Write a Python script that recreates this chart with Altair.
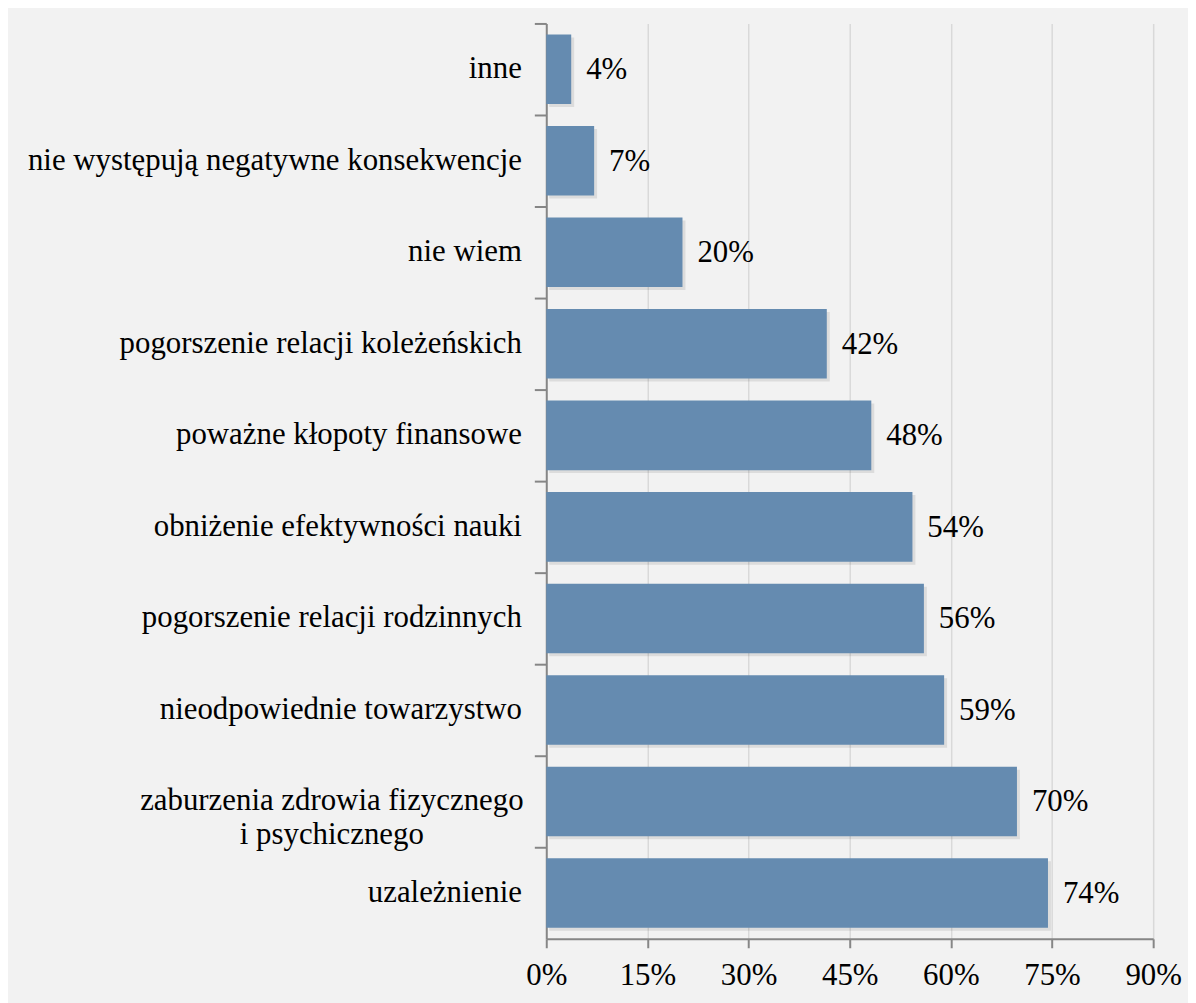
import altair as alt
import pandas as pd

categories = [
    "inne",
    "nie występują negatywne konsekwencje",
    "nie wiem",
    "pogorszenie relacji koleżeńskich",
    "poważne kłopoty finansowe",
    "obniżenie efektywności nauki",
    "pogorszenie relacji rodzinnych",
    "nieodpowiednie towarzystwo",
    "zaburzenia zdrowia fizycznego|i psychicznego",
    "uzależnienie",
]
values = [3.7, 7.1, 20.2, 41.6, 48.2, 54.3, 56.0, 59.0, 69.8, 74.4]
x_ticks = [0, 15, 30, 45, 60, 75, 90]

df = pd.DataFrame({"cat": categories, "value": values})

FONT = "Liberation Serif"
FS = 31
BAR = "#658BB0"
AXIS_C = "#868686"
MULTI = "zaburzenia zdrowia fizycznego|i psychicznego"
test = f"datum.value == '{MULTI}'"

y_enc = alt.Y(
    "cat:N",
    sort=categories,
    scale=alt.Scale(paddingInner=0, paddingOuter=0),
    axis=alt.Axis(
        title=None,
        bandPosition=0,
        tickSize=12,
        tickWidth=2,
        tickColor=AXIS_C,
        domainColor=AXIS_C,
        domainWidth=2,
        grid=False,
        labelFont=FONT,
        labelFontSize=FS,
        labelColor="black",
        labelLimit=0,
        labelLineHeight=34,
        labelExpr="split(datum.label, '|')",
        labelAlign={"condition": {"test": test, "value": "center"}, "value": "right"},
        labelPadding={"condition": {"test": test, "value": 204}, "value": 13},
    ),
)

x_enc = alt.X(
    "value:Q",
    scale=alt.Scale(domain=[0, 90], nice=False),
    axis=alt.Axis(
        title=None,
        values=x_ticks,
        labelExpr="datum.value + '%'",
        tickSize=9,
        tickWidth=2,
        tickColor=AXIS_C,
        domainColor=AXIS_C,
        domainWidth=2,
        grid=True,
        gridColor="#d9d9d9",
        gridWidth=1.5,
        labelFont=FONT,
        labelFontSize=FS,
        labelColor="black",
        labelPadding=13,
        labelFlush=False,
    ),
)

base = alt.Chart(df).encode(y=y_enc, x=x_enc)

shadow = base.mark_bar(
    height={"band": 0.76}, color="#000000", opacity=0.09, xOffset=3, yOffset=3
)
bars = base.mark_bar(height={"band": 0.76}, color=BAR)
labels = base.transform_calculate(
    lab="format(datum.value, '.0f') + '%'"
).mark_text(
    align="left", baseline="middle", dx=15, dy=1, font=FONT, fontSize=FS, color="black"
).encode(text="lab:N")

chart = (
    alt.layer(shadow, bars, labels)
    .properties(
        width=610,
        height=920,
        autosize=alt.AutoSizeParams(type="none"),
        padding={"left": 541, "top": 13, "right": 35, "bottom": 62},
        background="#f2f2f2",
    )
    .configure_view(stroke=None)
)

chart.save("out.html", embed_options={"renderer": "svg", "actions": False})
